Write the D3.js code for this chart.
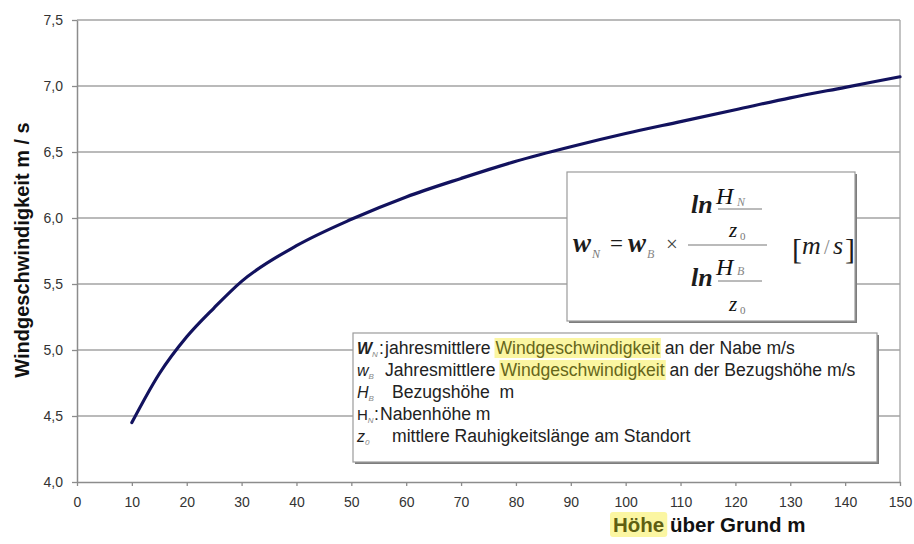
<!DOCTYPE html>
<html>
<head>
<meta charset="utf-8">
<script src="https://cdn.jsdelivr.net/npm/d3@7"></script>
<style>
body{margin:0;background:#fff}
svg{display:block}
text{white-space:pre}
</style>
</head>
<body>
<script>
var width = 914, height = 544;

// data
var hoehe = [10,15,20,25,30,40,50,60,70,80,90,100,110,120,130,140,150];
var wind  = [4.45,4.82,5.10,5.32,5.52,5.79,5.99,6.16,6.30,6.43,6.54,6.64,6.73,6.82,6.91,6.99,7.07];

var xTicks = [0,10,20,30,40,50,60,70,80,90,100,110,120,130,140,150];
var yTicks = [4.0,4.5,5.0,5.5,6.0,6.5,7.0,7.5];
var yTickLabels = ["4,0","4,5","5,0","5,5","6,0","6,5","7,0","7,5"];

// legend lines: symbol, subscript, separator, text, highlighted word, rest
var legSym  = ["W","w","H","H","z"];
var legSub  = ["N","B","B","N","0"];
var legSep  = [":","","",":",""];
var legPre  = ["jahresmittlere ","Jahresmittlere ","Bezugshöhe  m","Nabenhöhe m","mittlere Rauhigkeitslänge am Standort"];
var legHi   = ["Windgeschwindigkeit","Windgeschwindigkeit","","",""];
var legPost = [" an der Nabe m/s"," an der Bezugshöhe m/s","","",""];
var legSymStyle = ["bolditalic","italic","italic","normal","italic"];
var legSymSize = [16,16,16,15,16];
var legSepX  = [379,0,0,374,0];
var legTextX = [385,385,392,380,392];

var svg = d3.select("body").append("svg")
    .attr("width",width)
    .attr("height",height)
    .style("font-family","'Liberation Sans', Arial, sans-serif");

var x = d3.scaleLinear().domain([0,150]).range([77,900]);
var y = d3.scaleLinear().domain([4,7.5]).range([482,20]);

// gridlines
svg.append("g").selectAll("line")
   .data(yTicks.slice(1))
   .join("line")
   .attr("x1",x(0)).attr("x2",x(150))
   .attr("y1",function(d){return y(d);})
   .attr("y2",function(d){return y(d);})
   .attr("stroke","#a3a3a3")
   .attr("stroke-width",1.3);

// right border of plot area
svg.append("line")
   .attr("x1",x(150)).attr("x2",x(150))
   .attr("y1",y(7.5)).attr("y2",y(4))
   .attr("stroke","#a3a3a3").attr("stroke-width",1.3);

// axes
var yAxis = d3.axisLeft(y).tickValues(yTicks).tickSize(5).tickSizeOuter(0).tickPadding(9)
    .tickFormat(function(d,i){return yTickLabels[i];});
var gy = svg.append("g").attr("transform","translate("+x(0)+",0)").call(yAxis);

var xAxis = d3.axisBottom(x).tickValues(xTicks).tickSize(4).tickSizeOuter(0).tickPadding(11);
var gx = svg.append("g").attr("transform","translate(0,"+y(4)+")").call(xAxis);

[gx,gy].forEach(function(g){
    g.select(".domain").attr("stroke","#8c8c8c").attr("stroke-width",1.5);
    g.selectAll(".tick line").attr("stroke","#8c8c8c").attr("stroke-width",1.3);
    g.selectAll(".tick text").attr("fill","#333").style("font-size","14px")
     .style("font-family","'Liberation Sans', Arial, sans-serif");
});

// curve
var line = d3.line()
    .x(function(d,i){return x(hoehe[i]);})
    .y(function(d){return y(d);})
    .curve(d3.curveMonotoneX);
svg.append("path")
   .datum(wind)
   .attr("d",line)
   .attr("fill","none")
   .attr("stroke","#12125e")
   .attr("stroke-width",3.2)
   .attr("stroke-linecap","round");

// axis titles
svg.append("text")
   .attr("transform","translate(29,250) rotate(-90)")
   .attr("text-anchor","middle")
   .style("font-size","20px").style("font-weight","bold")
   .attr("fill","#111")
   .text("Windgeschwindigkeit m / s");

var xt = svg.append("text").attr("x",613).attr("y",532)
   .style("font-size","20.5px").style("font-weight","bold");
var hoeheWord = xt.append("tspan").attr("fill","#5f5f12").text("Höhe");
xt.append("tspan").attr("fill","#111").text(" über Grund m");
var hb = hoeheWord.node().getBBox();
svg.insert("rect",function(){return xt.node();})
   .attr("x",hb.x-3).attr("y",hb.y-1).attr("width",hb.width+6).attr("height",hb.height+2)
   .attr("fill","#fbf6a2").attr("rx",3);

// boxes with shadow
function box(x0,y0,w,h){
    svg.append("rect").attr("x",x0+2).attr("y",y0+2).attr("width",w).attr("height",h)
       .attr("fill","#7d7d7d");
    svg.append("rect").attr("x",x0).attr("y",y0).attr("width",w).attr("height",h)
       .attr("fill","#fff").attr("stroke","#9b9b9b").attr("stroke-width",1.2);
}

// formula box
box(567,172,288,149);
var serif = "'Liberation Serif','Times New Roman',serif";
var fg = svg.append("g").style("font-family",serif).attr("fill","#1c1c1c");
function ft(tx,ty,s,size,style,weight,col){
    return fg.append("text").attr("x",tx).attr("y",ty).text(s)
      .style("font-size",size+"px").style("font-style",style||"normal")
      .style("font-weight",weight||"normal").attr("fill",col||"#1c1c1c");
}
ft(573,252,"w",27,"italic","bold");
ft(592,258,"N",12,"italic","normal","#777");
ft(610,251,"=",23);
ft(628,252,"w",27,"italic","bold");
ft(647,258,"B",12,"italic","normal","#888");
ft(666,251,"×",21,"normal","normal","#444");
fg.append("line").attr("x1",688).attr("x2",767).attr("y1",245).attr("y2",245)
  .attr("stroke","#777").attr("stroke-width",1.2);
// numerator
ft(691,213,"ln",26,"italic","bold");
ft(716,204,"H",24,"italic","normal","#111");
ft(737,206,"N",12,"italic","normal","#888");
fg.append("line").attr("x1",718).attr("x2",762).attr("y1",209).attr("y2",209)
  .attr("stroke","#777").attr("stroke-width",1);
ft(729,237,"z",21,"italic","normal","#111");
ft(740,240,"0",11,"normal","normal","#777");
// denominator
ft(691,286,"ln",26,"italic","bold");
ft(716,275,"H",24,"italic","normal","#111");
ft(737,275,"B",12,"italic","normal","#888");
fg.append("line").attr("x1",718).attr("x2",762).attr("y1",281).attr("y2",281)
  .attr("stroke","#777").attr("stroke-width",1);
ft(729,311,"z",21,"italic","normal","#111");
ft(740,314,"0",11,"normal","normal","#777");
// unit
ft(792,259,"[",30);
ft(802,254,"m",26,"italic");
ft(824,254,"/",20,"normal","normal","#888");
ft(833,254,"s",26,"italic");
ft(845,259,"]",30);

// legend box
box(353,333,524,129);
var lg = svg.append("g").style("font-size","17.6px").attr("fill","#222");
var hiLayer = lg.append("g");
legSym.forEach(function(s,i){
    var by = 354 + i*22;
    var t = lg.append("text").attr("x",357).attr("y",by);
    var sym = t.append("tspan").text(s).style("font-size",legSymSize[i]+"px");
    if(legSymStyle[i]=="bolditalic"){ sym.style("font-style","italic").style("font-weight","bold"); }
    else if(legSymStyle[i]=="italic"){ sym.style("font-style","italic"); }
    t.append("tspan").attr("y",by+3).style("font-size","8px").style("font-style","italic")
     .attr("fill","#888").text(legSub[i]);
    if(legSep[i]){
        t.append("tspan").attr("x",legSepX[i]).attr("y",by).text(legSep[i]);
    }
    t.append("tspan").attr("x",legTextX[i]).attr("y",by).text(legPre[i]);
    if(legHi[i]){
        var hi = t.append("tspan").attr("fill","#66661a").text(legHi[i]);
        t.append("tspan").text(legPost[i]);
        var b = hi.node().getBBox();
        hiLayer.append("rect")
          .attr("x",b.x-1).attr("y",b.y).attr("width",b.width+2).attr("height",b.height)
          .attr("fill","#fbf6a2");
    }
});
</script>
</body>
</html>
